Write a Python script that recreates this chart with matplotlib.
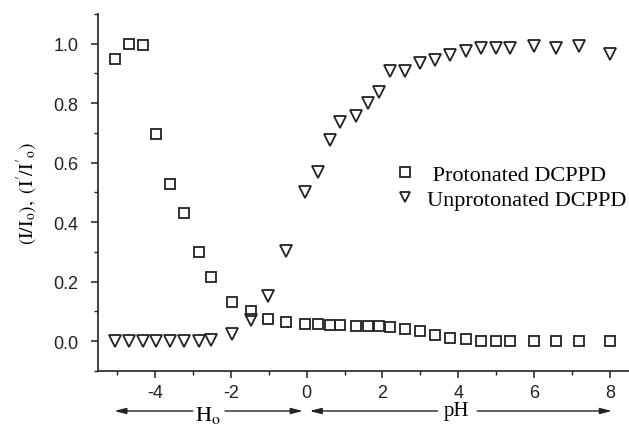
import matplotlib
matplotlib.use('Agg')
import matplotlib.pyplot as plt
from matplotlib.ticker import MultipleLocator

# x positions (H0 for x < 0, pH for x >= 0)
x_vals = [-5.05, -4.69, -4.32, -3.98, -3.61, -3.22, -2.85, -2.52, -1.97, -1.47,
          -1.01, -0.54, -0.05, 0.30, 0.61, 0.89, 1.29, 1.61, 1.91, 2.19,
          2.59, 3.00, 3.39, 3.79, 4.19, 4.59, 4.99, 5.37, 6.00, 6.58,
          7.18, 8.00]
protonated = [0.95, 1.00, 0.995, 0.697, 0.527, 0.43, 0.30, 0.217, 0.132, 0.10,
              0.076, 0.065, 0.058, 0.057, 0.055, 0.055, 0.051, 0.050, 0.050, 0.047,
              0.041, 0.035, 0.022, 0.012, 0.006, 0.002, 0.001, 0.0, 0.0, 0.0,
              0.0, 0.0]
unprotonated = [0.0, 0.0, 0.0, 0.0, 0.0, 0.0, 0.0, 0.005, 0.023, 0.07,
                0.152, 0.302, 0.50, 0.568, 0.678, 0.736, 0.758, 0.80, 0.837, 0.91,
                0.91, 0.935, 0.946, 0.963, 0.976, 0.984, 0.984, 0.984, 0.993, 0.986,
                0.993, 0.965]

plt.rcParams['font.family'] = ['Liberation Sans', 'DejaVu Sans']
plt.rcParams['mathtext.fontset'] = 'stix'
serif = ['Liberation Serif', 'DejaVu Serif']

fig = plt.figure(figsize=(6.29, 4.27), dpi=100)
ax = fig.add_axes([0.1558, 0.1288, 0.8442, 0.8361])

ax.plot(x_vals, protonated, ls='none', marker='s', ms=7.3, mfc='none', mec='#222222',
        mew=1.3, label=' Protonated DCPPD')
ax.plot(x_vals, unprotonated, ls='none', marker='v', ms=8, mfc='none', mec='#222222',
        mew=1.3, label='Unprotonated DCPPD')

ax.set_xlim(-5.5, 8.5)
ax.set_ylim(-0.1, 1.1)
ax.xaxis.set_major_locator(MultipleLocator(2))
ax.xaxis.set_minor_locator(MultipleLocator(1))
ax.yaxis.set_major_locator(MultipleLocator(0.2))
ax.yaxis.set_minor_locator(MultipleLocator(0.1))
ax.yaxis.set_major_formatter(plt.FuncFormatter(lambda v, p: '%.1f' % v))
ax.xaxis.set_major_formatter(plt.FuncFormatter(lambda v, p: '%d' % round(v)))
ax.spines['top'].set_visible(False)
ax.spines['right'].set_visible(False)
for s in ['left', 'bottom']:
    ax.spines[s].set_linewidth(1.2)
    ax.spines[s].set_color('#222222')
ax.tick_params(which='major', direction='out', length=5, width=1.1, labelsize=13,
               colors='#222222')
ax.tick_params(axis='y', which='major', pad=9)
ax.tick_params(axis='x', which='major', pad=4)
ax.tick_params(which='minor', direction='out', length=3, width=1.0, colors='#222222')

ax.set_ylabel(r"$(\mathrm{I}/\mathrm{I}_\mathrm{o}),\ (\mathrm{I}'/\mathrm{I}'_\mathrm{o})$",
              fontsize=14, labelpad=10)

leg = ax.legend(loc='upper left', bbox_to_anchor=(0.52, 0.635), frameon=False,
                prop={'family': serif, 'size': 16}, handletextpad=0.5,
                labelspacing=0.2, handlelength=1.0, markerscale=0.95)

# H0 / pH arrows under the x axis
ay = -0.112
tr = ('data', 'axes fraction')
arrow = dict(arrowstyle='-|>,head_length=0.7,head_width=0.18', color='#222222',
             lw=1.0, shrinkA=0, shrinkB=0)
ax.annotate('', xy=(-5.07, ay), xytext=(-3.0, ay), xycoords=tr, textcoords=tr,
            arrowprops=arrow, annotation_clip=False)
ax.annotate('', xy=(-0.1, ay), xytext=(-2.15, ay), xycoords=tr, textcoords=tr,
            arrowprops=arrow, annotation_clip=False)
ax.text(-2.6, ay - 0.01, r'$\mathrm{H}_{\mathrm{o}}$', transform=ax.get_xaxis_transform(),
        ha='center', va='center', fontsize=16)
ax.annotate('', xy=(0.08, ay), xytext=(3.45, ay), xycoords=tr, textcoords=tr,
            arrowprops=arrow, annotation_clip=False)
ax.annotate('', xy=(8.05, ay), xytext=(4.5, ay), xycoords=tr, textcoords=tr,
            arrowprops=arrow, annotation_clip=False)
ax.text(3.95, ay, 'pH', transform=ax.get_xaxis_transform(),
        ha='center', va='center', family=serif, fontsize=15)

fig.savefig('out.png', dpi=100)
